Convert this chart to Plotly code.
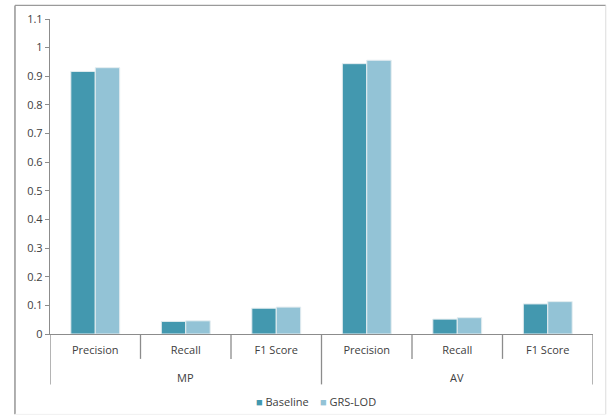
import plotly.graph_objects as go

# Grouped scores per dataset and metric
datasets = ["MP", "AV"]
metrics = ["Precision", "Recall", "F1 Score", "Precision", "Recall", "F1 Score"]
baseline = [0.917, 0.044, 0.090, 0.944, 0.052, 0.105]
grs_lod = [0.930, 0.046, 0.094, 0.956, 0.057, 0.113]
y_ticks = [0, 0.1, 0.2, 0.3, 0.4, 0.5, 0.6, 0.7, 0.8, 0.9, 1, 1.1]
series_names = ["Baseline", "GRS-LOD"]
series_colors = ["#4398AF", "#93C3D6"]

FONT = "Open Sans"
TEXT = "#404040"
AXIS = "#8c8c8c"

positions = list(range(len(metrics)))
per_group = len(metrics) // len(datasets)

fig = go.Figure()
for name, vals, col in zip(series_names, [baseline, grs_lod], series_colors):
    fig.add_trace(go.Bar(
        name=name, x=positions, y=vals,
        marker=dict(color=col, line=dict(color="#e4edf0", width=1)),
        showlegend=False,
    ))

shapes = []
# boundaries between metric categories (short) and dataset groups (long)
for b in range(len(metrics) + 1):
    is_group_edge = b % per_group == 0
    shapes.append(dict(
        type="line", xref="x", yref="paper",
        x0=b - 0.5, x1=b - 0.5, y0=0, y1=-0.16 if is_group_edge else -0.079,
        line=dict(color=AXIS, width=1.3),
    ))

# outer frame
frame = dict(xref="paper", yref="paper", type="line")
shapes += [
    dict(frame, x0=-0.0645, x1=-0.0645, y0=-0.255, y1=1.043, line=dict(color="#7a7a7a", width=1.2)),
    dict(frame, x0=-0.0645, x1=1.0235, y0=1.043, y1=1.043, line=dict(color="#9a9a9a", width=1.2)),
    dict(frame, x0=1.0235, x1=1.0235, y0=-0.255, y1=1.043, line=dict(color="#dcdcdc", width=1)),
    dict(frame, x0=-0.0645, x1=1.0235, y0=-0.255, y1=-0.255, line=dict(color="#f0f0f0", width=1)),
]

annotations = []
for g, ds in enumerate(datasets):
    annotations.append(dict(
        text=ds, xref="x", yref="paper", x=g * per_group + (per_group - 1) / 2,
        y=-0.137, showarrow=False, yanchor="middle",
        font=dict(family=FONT, size=11, color=TEXT),
    ))

# legend entries
legend_x = [0.376, 0.494]
for name, col, lx in zip(series_names, series_colors, legend_x):
    annotations.append(dict(
        text=f"<span style='color:{col}'>■</span> {name}",
        xref="paper", yref="paper", x=lx, y=-0.215, xanchor="left", yanchor="middle",
        showarrow=False, font=dict(family=FONT, size=11, color=TEXT),
    ))

fig.update_layout(
    width=607, height=420,
    margin=dict(l=50, r=14, t=19, b=86, autoexpand=False),
    paper_bgcolor="white", plot_bgcolor="white",
    barmode="group", bargap=0.46, bargroupgap=0.0,
    font=dict(family=FONT, size=11, color=TEXT),
    showlegend=False,
    xaxis=dict(
        range=[-0.5, len(metrics) - 0.5], tickvals=positions, ticktext=metrics,
        showline=True, linecolor=AXIS, linewidth=1.3, ticks="", showgrid=False,
        zeroline=False, ticklabelstandoff=6, tickfont=dict(size=11, color=TEXT),
        automargin=False,
    ),
    yaxis=dict(
        range=[0, 1.1], tickvals=y_ticks, showgrid=False, zeroline=False,
        showline=True, linecolor=AXIS, linewidth=1.3, ticks="outside", ticklen=4,
        tickcolor=AXIS, tickfont=dict(size=11, color=TEXT), automargin=False,
    ),
    shapes=shapes,
    annotations=annotations,
)

fig.write_html("out.html")
